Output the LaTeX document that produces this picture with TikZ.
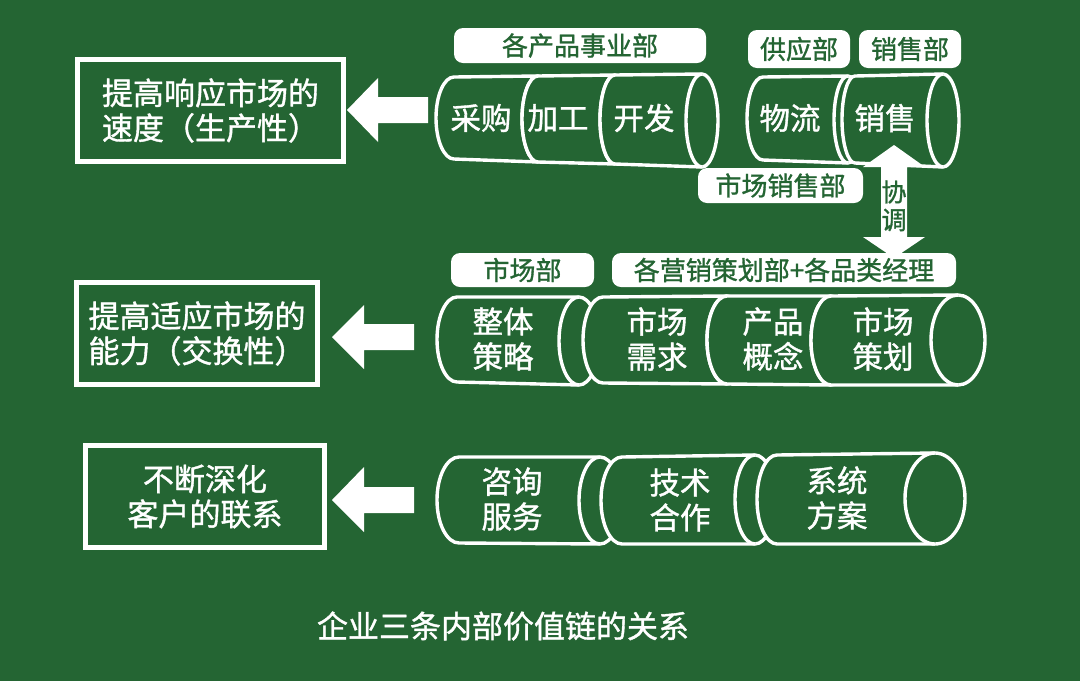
\documentclass[tikz,border=0pt]{standalone}
\usepackage{fontspec}
\setmainfont{Noto Sans CJK SC}[FakeBold=1.2]
\definecolor{bg}{RGB}{36,101,51}
\tikzset{
  cylline/.style={draw=white, fill=bg, line width=3.4pt},
  lbl/.style={fill=white, rounded corners=9pt, inner sep=0pt, text=bg, font=\fontsize{26}{30}\selectfont},
  goalbox/.style={draw=white, line width=5pt, inner sep=0pt, text=white, font=\fontsize{31}{35}\selectfont},
  cyltext/.style={text=white, align=center, font=\fontsize{30.5}{35}\selectfont},
  blockarrow/.style={fill=white}
}
\newcommand{\cylseg}[8]{%
  \pgfmathsetmacro\cylHL{(#3-#2)/2}%
  \pgfmathsetmacro\cylHR{(#6-#5)/2}%
  \filldraw[cylline] (#1,#2) -- (#4,#5) arc[start angle=-90,end angle=90,x radius=#8,y radius=\cylHR] -- (#1,#3) arc[start angle=90,end angle=270,x radius=#7,y radius=\cylHL] -- cycle;
  \draw[cylline] (#4,#5) arc[start angle=270,end angle=90,x radius=#8,y radius=\cylHR];
}
\begin{document}
\begin{tikzpicture}[x=1pt,y=-1pt]
\useasboundingbox (0,0) rectangle (1080,681);
\fill[bg] (0,0) rectangle (1080,681);

% goal boxes
\node[goalbox, minimum width=266pt, minimum height=102pt, align=left] (g1) at (210.5,110.5) {提高响应市场的\\速度（生产性）};
\node[goalbox, minimum width=241pt, minimum height=102pt, align=left] (g2) at (197,333.5) {提高适应市场的\\能力（交换性）};
\node[goalbox, minimum width=239pt, minimum height=102pt, align=center] (g3) at (205,496.5) {不断深化\\客户的联系};

% block arrows
\fill[blockarrow] (347,110) -- (378,78) -- (378,97) -- (428,97) -- (428,123) -- (378,123) -- (378,142) -- cycle;
\fill[blockarrow] (332,337) -- (364,305) -- (364,324) -- (414,324) -- (414,350) -- (364,350) -- (364,369) -- cycle;
\fill[blockarrow] (332,500) -- (364,467) -- (364,487) -- (414,487) -- (414,513) -- (364,513) -- (364,532) -- cycle;

% top row cylinders
\cylseg{454}{77}{159}{538}{76}{162}{18}{16}
\cylseg{538}{76}{162}{615}{75}{164}{16}{15}
\cylseg{615}{75}{164}{702}{74}{167}{15}{16}
\cylseg{763}{77}{160}{848}{76}{163}{16}{14}
\cylseg{855}{76}{163}{943}{74}{167}{13}{16}

% middle row cylinders
\cylseg{457}{297}{382}{579}{297}{385}{20}{20}
\cylseg{603}{297}{383}{727}{296}{384}{20}{20}
\cylseg{727}{296}{384}{831}{296}{385}{20}{20}
\cylseg{831}{296}{385}{958}{295}{385}{20}{27}

% bottom row cylinders
\cylseg{459}{457}{543}{600}{457}{544}{22}{21}
\cylseg{622}{457}{544}{755}{455}{544}{21}{20}
\cylseg{777}{455}{544}{935}{453}{544}{20}{30}

% cylinder texts
\node[cyltext] (t1) at (481,118) {采购};
\node[cyltext] (t2) at (558,118) {加工};
\node[cyltext] (t3) at (644,118) {开发};
\node[cyltext] (t4) at (790,118) {物流};
\node[cyltext] (t5) at (885,118) {销售};
\node[cyltext] (m1) at (503,339) {整体\\策略};
\node[cyltext] (m2) at (657,339) {市场\\需求};
\node[cyltext] (m3) at (773,339) {产品\\概念};
\node[cyltext] (m4) at (883,339) {市场\\策划};
\node[cyltext] (b1) at (512,499) {咨询\\服务};
\node[cyltext] (b2) at (680,500) {技术\\合作};
\node[cyltext] (b3) at (837,498) {系统\\方案};

% labels
\node[lbl, minimum width=252pt, minimum height=35pt] (l1) at (580,45.5) {各产品事业部};
\node[lbl, minimum width=102pt, minimum height=38pt] (l2) at (799,49) {供应部};
\node[lbl, minimum width=102pt, minimum height=38pt] (l3) at (910,49) {销售部};
\node[lbl, minimum width=165pt, minimum height=35pt] (l4) at (780.5,185.5) {市场销售部};
\node[lbl, minimum width=143pt, minimum height=34pt] (l5) at (522.5,270) {市场部};
\node[lbl, minimum width=344pt, minimum height=34pt] (l6) at (784,270) {各营销策划部+各品类经理};

% coordination double arrow
\fill[blockarrow] (894,145) -- (925,167) -- (907,167) -- (907,237) -- (925,237) -- (894,258) -- (863,237) -- (881,237) -- (881,167) -- (863,167) -- cycle;
\node[text=bg, font=\fontsize{25}{28}\selectfont] (x1) at (894,192) {协};
\node[text=bg, font=\fontsize{25}{28}\selectfont] (x2) at (894,220) {调};

% caption
\node[text=white, font=\fontsize{31}{35}\selectfont] (cap) at (503,626) {企业三条内部价值链的关系};
\end{tikzpicture}
\end{document}
